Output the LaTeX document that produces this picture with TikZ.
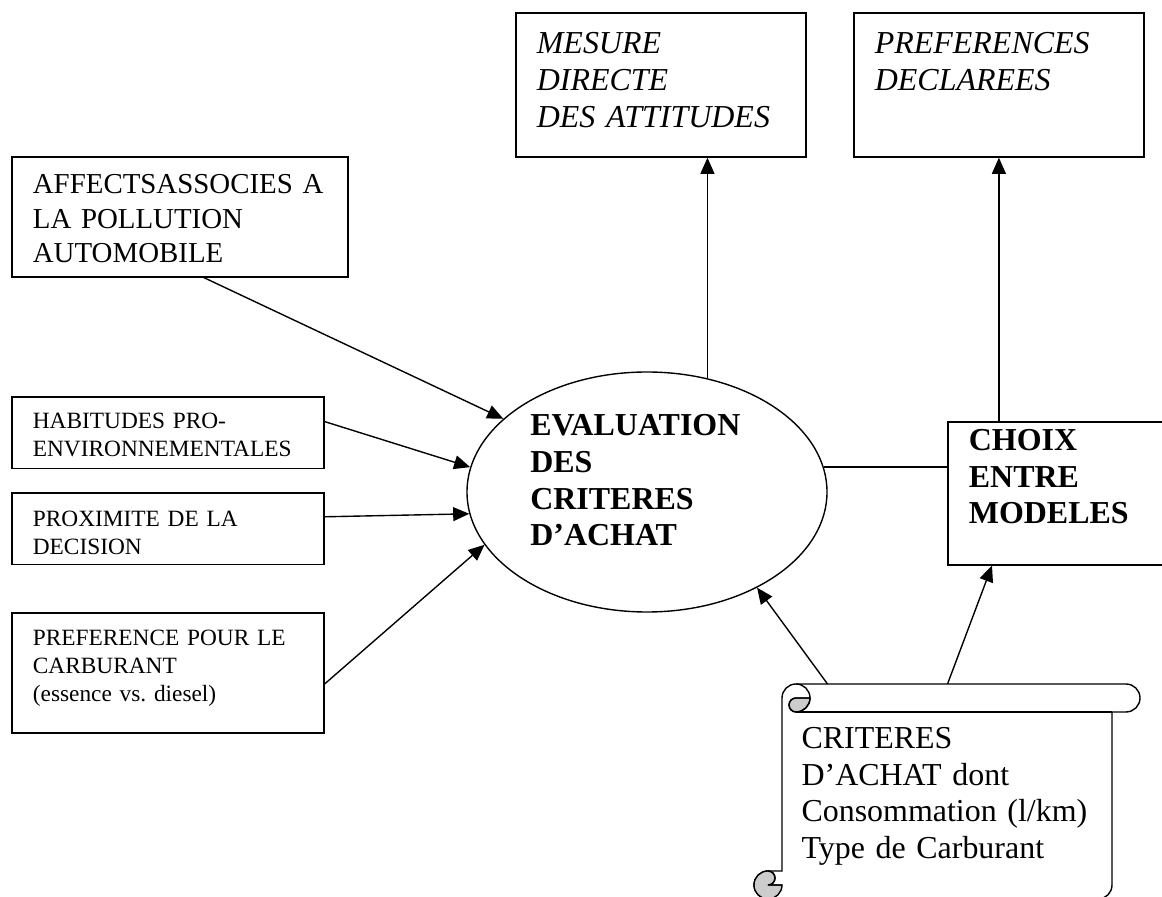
\documentclass[tikz,border=0pt]{standalone}
\usepackage{fontspec}
\setmainfont{Liberation Serif}
\usetikzlibrary{shapes.geometric,arrows.meta}

\tikzset{
    boite/.style={draw, line width=0.55pt, anchor=north west, inner ysep=0pt, inner xsep=7.6pt, align=left},
    grand/.style={font=\fontsize{11.5}{13.2}\selectfont},
    grandit/.style={font=\fontsize{11.5}{13.2}\selectfont\itshape},
    grandbf/.style={font=\fontsize{11.5}{13.2}\selectfont\bfseries},
    moyen/.style={font=\fontsize{10.4}{12.4}\selectfont},
    petit/.style={font=\fontsize{8.4}{10}\selectfont},
    trait/.style={line width=0.5pt},
    fleche/.style={trait, -{Triangle[length=5.8pt,width=5pt]}}
}

\begin{document}
\begin{tikzpicture}[x=0.36pt, y=-0.36pt]
        \useasboundingbox (0,0) rectangle (1162,897);

        % Mesure directe des attitudes
        \node[boite, grandit, text width=89.3pt, text height=14.8pt, text depth=37.1pt] (mesure) at (515,12)
            {MESURE\\ DIRECTE\\ DES ATTITUDES};

        % Preferences declarees
        \node[boite, grandit, text width=89.3pt, text height=14.8pt, text depth=37.1pt] (preferences) at (853,12)
            {PREFERENCES\\ DECLAREES};

        % Affects
        \node[boite, moyen, text width=105.8pt, text height=13.3pt, text depth=29.9pt] (affects) at (11,156)
            {AFFECTSASSOCIES~A\\ LA POLLUTION\\ AUTOMOBILE};

        % Habitudes
        \node[boite, petit, text width=97.2pt, text height=11.5pt, text depth=14.4pt] (habitudes) at (11,396)
            {HABITUDES PRO-\\ ENVIRONNEMENTALES};

        % Proximite
        \node[boite, petit, text width=97.2pt, text height=12.2pt, text depth=13.7pt] (proximite) at (11,492)
            {PROXIMITE DE LA\\ DECISION};

        % Preference carburant
        \node[boite, petit, text width=97.2pt, text height=11.9pt, text depth=31.3pt] (preference) at (11,612)
            {PREFERENCE POUR~LE\\ CARBURANT\\ (essence vs.\ diesel)};

        % Evaluation des criteres
        \node[ellipse, draw, trait, grandbf, minimum width=129.6pt, minimum height=86.4pt, inner sep=0pt,
            text width=84pt, align=left, text depth=48pt] (evaluation) at (647,492)
            {EVALUATION\\ DES\\ CRITERES\\ D’ACHAT};

        % Choix entre modeles
        \node[boite, grandbf, text width=67pt, text height=10.4pt, text depth=41.1pt] (choix) at (947,421)
            {CHOIX\\ ENTRE\\ MODELES};

        % Criteres d'achat (parchemin)
        \draw[trait, fill=white] (782,871) -- (782,698) arc(180:270:14) -- (1126,684) arc(270:450:14)
            -- (1112,712) -- (1112,885) arc(0:90:14) -- (768,899) arc(90:270:14) -- cycle;
        \draw[trait, fill=gray!40] (810,698) arc(0:90:14) arc(90:270:7) -- cycle;
        \draw[trait, fill=gray!40] (782,885) arc(0:270:14) arc(270:450:7) -- cycle;
        \draw[trait] (796,684) arc(270:450:14) arc(90:270:7) -- (810,698);
        \draw[trait] (1112,712) -- (796,712);
        \draw[trait] (768,871) arc(270:450:7) -- (782,885);
        \node[anchor=north west, inner ysep=0pt, inner xsep=6.84pt, align=left, grand, text width=105.1pt,
            text height=23pt, text depth=54.8pt] (criteres) at (782,684)
            {CRITERES\\ D’ACHAT dont\\ Consommation~(l/km)\\ Type de Carburant};

        % Relations
        \draw[fleche] ([xshift=8.6pt]affects.south) -- (evaluation.153);
        \draw[fleche] ([yshift=4pt]habitudes.east) -- (evaluation.172);
        \draw[fleche] ([yshift=4.3pt]proximite.east) -- (evaluation.187);
        \draw[fleche] ([yshift=-4pt]preference.east) -- (evaluation.198);
        \draw[fleche] (evaluation.62) -- (evaluation.62 |- mesure.south);
        \draw[trait] (evaluation.8) -- (evaluation.8 -| choix.west);
        \draw[fleche] (preferences.south |- choix.north) -- (preferences.south);
        \draw[fleche] ([xshift=-43.2pt]criteres.north) -- (evaluation.319);
        \draw[fleche] (criteres.north) -- ([xshift=16.2pt]choix.south west);
    \end{tikzpicture}
\end{document}
